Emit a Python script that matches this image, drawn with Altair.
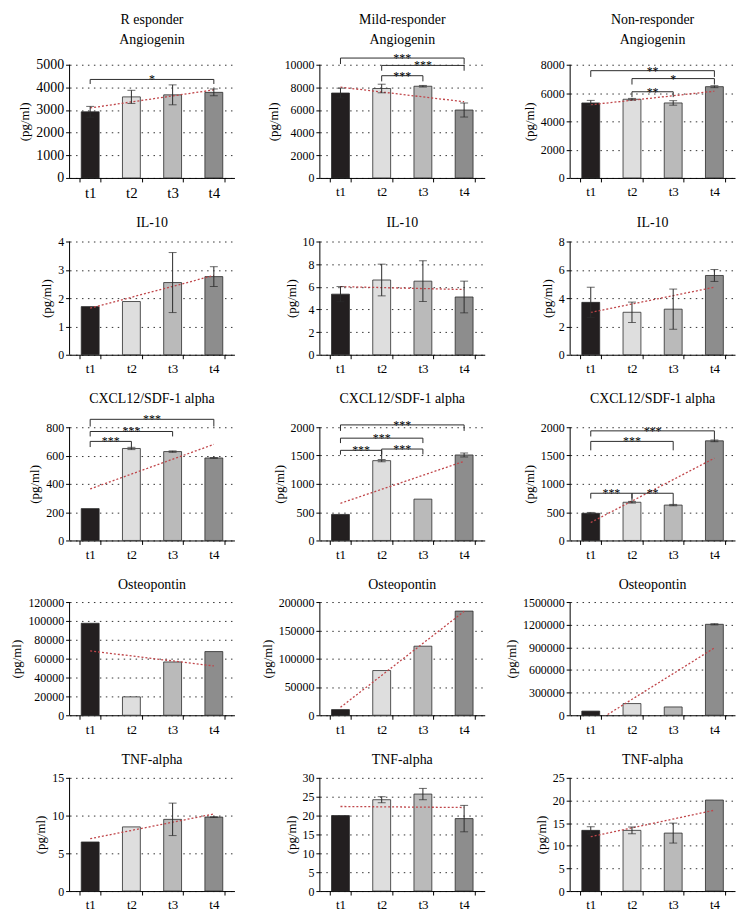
import altair as alt
import pandas as pd

FONT = "Liberation Serif"
BAR_COLORS = ["#231f20", "#dedede", "#bababa", "#8d8d8d"]
INK = "#2b2b2b"
TREND = "#c0464a"
PLOT_W, PLOT_H = 166, 114

TIMES = ["t1", "t2", "t3", "t4"]
GROUPS = ["R esponder", "Mild-responder", "Non-responder"]
MARKERS = ["Angiogenin", "IL-10", "CXCL12/SDF-1 alpha", "Osteopontin", "TNF-alpha"]

# one list per group (R, Mild, Non): bar means, error half-widths,
# dotted trend line at t1 and t4, y axis max and step, significance brackets
angiogenin_mean = [[2920, 3580, 3670, 3780], [7500, 7900, 8100, 6000], [5300, 5560, 5300, 6450]]
angiogenin_err = [[240, 290, 440, 150], [430, 380, 70, 620], [180, 60, 160, 70]]
angiogenin_trend = [[3090, 3890], [8020, 6730], [5170, 6130]]
angiogenin_axis = [[5000, 1000], [10000, 2000], [8000, 2000]]
angiogenin_sig = [
    [("t1", "t4", 4350, 4150, 4150, "*")],
    [("t1", "t4", 10590, 10060, 10060, "***"),
     ("t2", "t4", 9940, 9470, 9470, "***"),
     ("t2", "t3", 9030, 8530, 8530, "***")],
    [("t1", "t4", 7580, 7140, 7140, "**"),
     ("t2", "t4", 7020, 6600, 6600, "*"),
     ("t2", "t3", 6090, 5710, 5710, "**")],
]

il10_mean = [[1.70, 1.88, 2.55, 2.76], [5.35, 6.6, 6.5, 5.1], [3.7, 3.0, 3.22, 5.6]]
il10_err = [[0, 0, 1.06, 0.35], [0.67, 1.4, 1.8, 1.4], [1.07, 0.72, 1.42, 0.42]]
il10_trend = [[1.645, 2.80], [6.015, 5.76], [2.99, 4.77]]
il10_axis = [[4, 1], [10, 2], [8, 2]]
il10_sig = [[], [], []]

cxcl_mean = [[225, 650, 628, 583], [460, 1410, 730, 1510], [480, 675, 625, 1760]]
cxcl_err = [[0, 8, 5, 3], [0, 20, 0, 35], [15, 15, 12, 15]]
cxcl_trend = [[364, 679], [657, 1398], [317, 1454]]
cxcl_axis = [[800, 200], [2000, 500], [2000, 500]]
cxcl_sig = [
    [("t1", "t2", 700, 660, 658, "***"),
     ("t1", "t3", 770, 735, 735, "***"),
     ("t1", "t4", 856, 805, 805, "***")],
    [("t1", "t4", 2041, 1935, 1935, "***"),
     ("t1", "t3", 1807, 1720, 1720, "***"),
     ("t1", "t2", 1592, 1516, 1440, "***"),
     ("t2", "t3", 1615, 1520, 1520, "***")],
    [("t1", "t4", 1936, 1837, 1778, "***"),
     ("t1", "t3", 1750, 1592, 1592, "***"),
     ("t1", "t2", 834, 740, 700, "***"),
     ("t2", "t3", 834, 740, 641, "**")],
]

osteo_mean = [[97500, 19500, 56500, 67500], [10000, 79000, 122000, 184000], [55000, 155000, 110000, 1205000]]
osteo_err = [[0, 0, 0, 0], [0, 0, 0, 0], [0, 0, 0, 8000]]
osteo_trend = [[68200, 52300], [14000, 183500], [-129500, 892000]]
osteo_axis = [[120000, 20000], [200000, 50000], [1500000, 300000]]
osteo_sig = [[], [], []]

tnf_mean = [[6.5, 8.5, 9.5, 9.8], [20.0, 24.2, 25.7, 19.2], [13.4, 13.4, 12.8, 20.1]]
tnf_err = [[0, 0, 2.15, 0.05], [0, 0.8, 1.5, 3.5], [0.8, 0.75, 2.2, 0]]
tnf_trend = [[6.94, 10.21], [22.41, 22.14], [12.0, 17.85]]
tnf_axis = [[15, 5], [30, 5], [25, 5]]
tnf_sig = [[], [], []]

# rows: data and the head room (px) above the top tick, which holds the brackets
ROWS = [
    (angiogenin_mean, angiogenin_err, angiogenin_trend, angiogenin_axis, angiogenin_sig, 18),
    (il10_mean, il10_err, il10_trend, il10_axis, il10_sig, 12),
    (cxcl_mean, cxcl_err, cxcl_trend, cxcl_axis, cxcl_sig, 21),
    (osteo_mean, osteo_err, osteo_trend, osteo_axis, osteo_sig, 10),
    (tnf_mean, tnf_err, tnf_trend, tnf_axis, tnf_sig, 11),
]


def panel(title, mean, err, trend, axis, sig, pad, label_size=12):
    """One bar chart with error bars, trend line and brackets."""
    pos = [i + 0.5 for i in range(len(TIMES))]
    df = pd.DataFrame({
        "time": TIMES, "pos": pos, "mean": mean,
        "lo": [m - e for m, e in zip(mean, err)],
        "hi": [m + e for m, e in zip(mean, err)],
        "err": err,
    })
    err_df = df[df["err"] > 0]
    y_max, y_step = axis
    y_scale = alt.Scale(domain=[0, y_max * (PLOT_H + pad) / PLOT_H], nice=False, zero=True)
    y_axis = alt.Axis(values=list(range(0, y_max + 1, y_step)), format="d", domain=False,
                      labelFont=FONT, titleFont=FONT, labelFontSize=label_size,
                      titleFontSize=13, titlePadding=4, labelPadding=2,
                      titleY=pad + PLOT_H / 2)
    x_lin = alt.Scale(domain=[0, 4], nice=False, zero=False)
    xq = alt.X("pos:Q", scale=x_lin, axis=None)
    ytitle = "(pg/ml)"

    def yenc(field):
        return alt.Y(field, scale=y_scale, axis=y_axis, title=ytitle)

    bars = alt.Chart(df).mark_bar(size=18, stroke=INK, strokeWidth=0.8).encode(
        x=alt.X("time:N", sort=TIMES, title=None,
                scale=alt.Scale(paddingInner=0.5, paddingOuter=0.25),
                axis=alt.Axis(labelAngle=0, tickBand="extent", labelFont=FONT,
                              labelFontSize=label_size + 1, labelPadding=4)),
        y=yenc("mean:Q"),
        color=alt.Color("time:N", scale=alt.Scale(domain=TIMES, range=BAR_COLORS), legend=None),
    )
    spine = alt.Chart(pd.DataFrame({"x": [0], "y": [0], "y2": [y_max]})).mark_rule(
        color="black", strokeWidth=1).encode(
        x=alt.X("x:Q", scale=x_lin, axis=None), y=yenc("y:Q"), y2="y2:Q")
    trend_df = pd.DataFrame({"pos": [pos[0], pos[-1]], "v": trend})
    line = alt.Chart(trend_df).mark_line(color=TREND, strokeDash=[2, 2], strokeWidth=1.3,
                                         clip=True).encode(x=xq, y=yenc("v:Q"))
    layers = [bars, spine, line]

    if len(err_df):
        whisk = alt.Chart(err_df).mark_rule(color=INK, strokeWidth=1).encode(
            x=xq, y=yenc("lo:Q"), y2="hi:Q")
        cap_hi = alt.Chart(err_df).mark_tick(orient="horizontal", size=8, thickness=1,
                                             color=INK).encode(x=xq, y=yenc("hi:Q"))
        cap_lo = alt.Chart(err_df).mark_tick(orient="horizontal", size=8, thickness=1,
                                             color=INK).encode(x=xq, y=yenc("lo:Q"))
        layers += [whisk, cap_hi, cap_lo]

    if sig:
        segs, marks = [], []
        for a, b, h, lo_a, lo_b, stars in sig:
            xa, xb = pos[TIMES.index(a)], pos[TIMES.index(b)]
            segs += [dict(x=xa, x2=xb, y=h, y2=h),
                     dict(x=xa, x2=xa, y=lo_a, y2=h),
                     dict(x=xb, x2=xb, y=lo_b, y2=h)]
            marks.append(dict(x=(xa + xb) / 2, y=h, s=stars))
        brackets = alt.Chart(pd.DataFrame(segs)).mark_rule(color=INK, strokeWidth=1).encode(
            x=alt.X("x:Q", scale=x_lin, axis=None), x2="x2:Q", y=yenc("y:Q"), y2="y2:Q")
        stars_txt = alt.Chart(pd.DataFrame(marks)).mark_text(
            font=FONT, fontSize=12, baseline="alphabetic", dy=4, color="black").encode(
            x=alt.X("x:Q", scale=x_lin, axis=None), y=yenc("y:Q"), text="s:N")
        layers += [brackets, stars_txt]

    return alt.layer(*layers).resolve_scale(x="independent").properties(
        width=PLOT_W, height=PLOT_H + pad,
        title=alt.TitleParams(text=title, offset=0, lineHeight=20),
    )


panels = []
for r, (means, errs, trends, axes, sigs, pad) in enumerate(ROWS):
    for g in range(len(GROUPS)):
        title = [GROUPS[g], MARKERS[r]] if r == 0 else MARKERS[r]
        size = 14 if (r == 0 and g == 0) else 12
        panels.append(panel(title, means[g], errs[g], trends[g], axes[g], sigs[g], pad, size))

chart = alt.concat(
    *panels, columns=3, spacing={"row": 52, "column": 86}, bounds="flush"
).properties(
    padding={"left": 3, "top": 2, "right": 2, "bottom": 2}
).configure(
    font=FONT
).configure_view(
    stroke=None
).configure_axis(
    labelFont=FONT, titleFont=FONT, labelColor="black", titleColor="black",
    titleFontSize=13, titleFontWeight="normal", domainColor="black", tickColor="black",
    tickSize=4, gridColor="#333333", gridDash=[1.5, 4.5],
).configure_axisX(
    grid=False
).configure_axisY(
    grid=True
).configure_title(
    font=FONT, fontSize=14, fontWeight="normal", color="black", frame="group"
)

chart.save("out.html", embed_options={"renderer": "svg", "actions": False})
